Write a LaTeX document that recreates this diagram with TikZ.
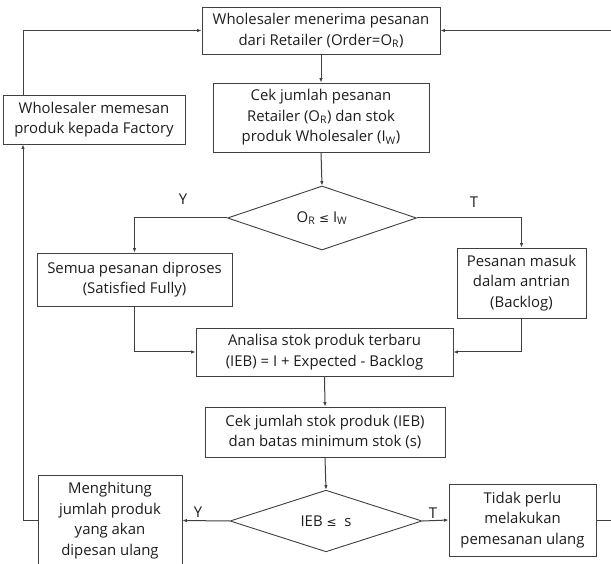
\documentclass[tikz,border=0pt]{standalone}
\usepackage{fontspec}
\setmainfont{Open Sans}
\newfontfamily\symfont{DejaVu Sans}
\usetikzlibrary{shapes.geometric,arrows.meta}
\definecolor{linegray}{HTML}{404040}
\definecolor{textgray}{HTML}{1E1E1E}
\newcommand{\leqsym}{{\symfont\fontsize{12}{12}\selectfont ≤}}
\begin{document}
\begin{tikzpicture}[x=1pt,y=-1pt,
  every node/.style={font=\fontsize{14.9}{20.5}\selectfont, text=textgray},
  procbox/.style={draw=linegray, line width=0.9pt, rectangle, align=center, inner sep=0pt},
  decision/.style={draw=linegray, line width=0.9pt, diamond, inner sep=0pt, align=center},
  branchlabel/.style={inner sep=1pt},
  flow/.style={draw=linegray, line width=1pt, -{Latex[length=4.5pt,width=3.5pt]}}]
\clip (0,0) rectangle (611,564);
\fill[white] (0,0) rectangle (611,564);

% process boxes and decisions
\node[procbox, minimum width=238pt, minimum height=47pt] (b1) at (321,30.5)
  {Wholesaler menerima pesanan\\dari Retailer (Order=O\textsubscript{R})};
\node[procbox, minimum width=216pt, minimum height=69pt] (b2) at (321,117.5)
  {Cek jumlah pesanan\\Retailer (O\textsubscript{R}) dan stok\\produk Wholesaler (I\textsubscript{W})};
\node[procbox, minimum width=182pt, minimum height=49pt] (bl) at (94,119.5)
  {Wholesaler memesan\\produk kepada Factory};
\node[decision, minimum width=189pt, minimum height=64pt] (d1) at (322,218)
  {O\textsubscript{R} \leqsym{} I\textsubscript{W}};
\node[procbox, minimum width=195pt, minimum height=53pt] (b3) at (134.5,279.5)
  {Semua pesanan diproses\\(Satisfied Fully)};
\node[procbox, minimum width=129pt, minimum height=70pt] (b4) at (521.5,283)
  {Pesanan masuk\\dalam antrian\\(Backlog)};
\node[procbox, minimum width=257pt, minimum height=48pt] (b5) at (324.5,352)
  {Analisa stok produk terbaru\\(IEB) = I + Expected - Backlog};
\node[procbox, minimum width=240pt, minimum height=50pt] (b6) at (325,432)
  {Cek jumlah stok produk (IEB)\\dan batas minimum stok (s)};
\node[decision, minimum width=192pt, minimum height=58pt] (d2) at (326,521)
  {IEB \leqsym\ \ s};
\node[procbox, minimum width=144pt, minimum height=91pt] (b7) at (110,520.5)
  {Menghitung\\jumlah produk\\yang akan\\dipesan ulang};
\node[procbox, minimum width=147pt, minimum height=72pt] (b8) at (522.5,520)
  {Tidak perlu\\melakukan\\pemesanan ulang};

% branch labels
\node[branchlabel] (y1) at (183,199) {Y};
\node[branchlabel] (t1) at (474,202) {T};
\node[branchlabel] (y2) at (198,512) {Y};
\node[branchlabel] (t2) at (433,513) {T};

% guide coordinates for the outer loops
\coordinate (lx) at (23,0);
\coordinate (rx) at (640,0);

% main flow
\draw[flow] (b1) -- (b2);
\draw[flow] (b2.south) -- (d1.north);
\draw[flow] (d1.west) -| (b3.north);
\draw[flow] (d1.east) -| (b4.north);
\draw[flow] (b3.south) |- (b5.west);
\draw[flow] (b4.south) |- (b5.east);
\draw[flow] (b5.south) -- (b6.north);
\draw[flow] (b6.south) -- (d2.north);
\draw[flow] (d2.west) -- (b7.east);
\draw[flow] (d2.east) -- (b8.west);

% reorder loop on the left
\draw[flow] (b7.west) -- (b7.west -| lx) -- (bl.south -| lx);
\draw[flow] (bl.north -| lx) -- (b1.west -| lx) -- (b1.west);
% no-reorder loop on the right
\draw[flow] (b8.east) -- (b8.east -| rx) -- (b1.east -| rx) -- (b1.east);
\end{tikzpicture}
\end{document}
